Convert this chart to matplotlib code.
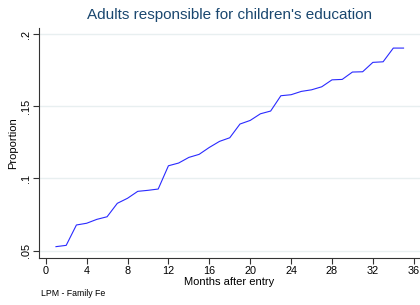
import matplotlib
matplotlib.use('Agg')
import matplotlib.pyplot as plt

matplotlib.rc('font', family=['Liberation Sans', 'DejaVu Sans'])

# Estimated proportions by month after entry
months = list(range(1, 36))
proportion = [
    .0528, .0537, .0678, .0690, .0717, .0735, .0828, .0863, .0911, .0918,
    .0927, .1088, .1107, .1146, .1167, .1215, .1257, .1282, .1377, .1402,
    .1448, .1467, .1573, .1580, .1603, .1614, .1635, .1683, .1686, .1737,
    .1739, .1804, .1808, .1903, .1903]

xticks = list(range(0, 37, 4))
yticks = [.05, .1, .15, .2]
ytick_labels = ['.05', '.1', '.15', '.2']

fig = plt.figure(figsize=(4.2, 3.05), dpi=100)
ax = fig.add_axes([39 / 420, 1 - 257.7 / 305, 1 - 39 / 420, (257.7 - 28) / 305])

ax.plot(months, proportion, color='#2a2aff', linewidth=0.8)

ax.set_xlim(-0.66, 36.61)
ax.set_ylim(.04515, .2042)

ax.set_xticks(xticks)
ax.set_yticks(yticks)
ax.set_yticklabels(ytick_labels, rotation=90, va='center')
ax.tick_params(axis='both', direction='out', length=4, width=0.8,
               labelsize=7.8, color='#333333', pad=2)

# grid lines in the light Stata style
ax.grid(axis='y', color='#e8eff0', linewidth=1.0)
ax.set_axisbelow(True)

for side in ('top', 'right'):
    ax.spines[side].set_visible(False)
for side in ('left', 'bottom'):
    ax.spines[side].set_color('#333333')
    ax.spines[side].set_linewidth(0.8)

ax.set_xlabel('Months after entry', fontsize=8, labelpad=1)
ax.set_ylabel('Proportion', fontsize=8, labelpad=2)

fig.text(229.5 / 420, 1 - 15 / 305, "Adults responsible for children's education",
         ha='center', va='center', fontsize=11, color='#1a476f')
fig.text(41 / 420, 1 - 294 / 305, 'LPM - Family Fe', ha='left', va='center',
         fontsize=6.3)

fig.savefig('out.png', dpi=100)
